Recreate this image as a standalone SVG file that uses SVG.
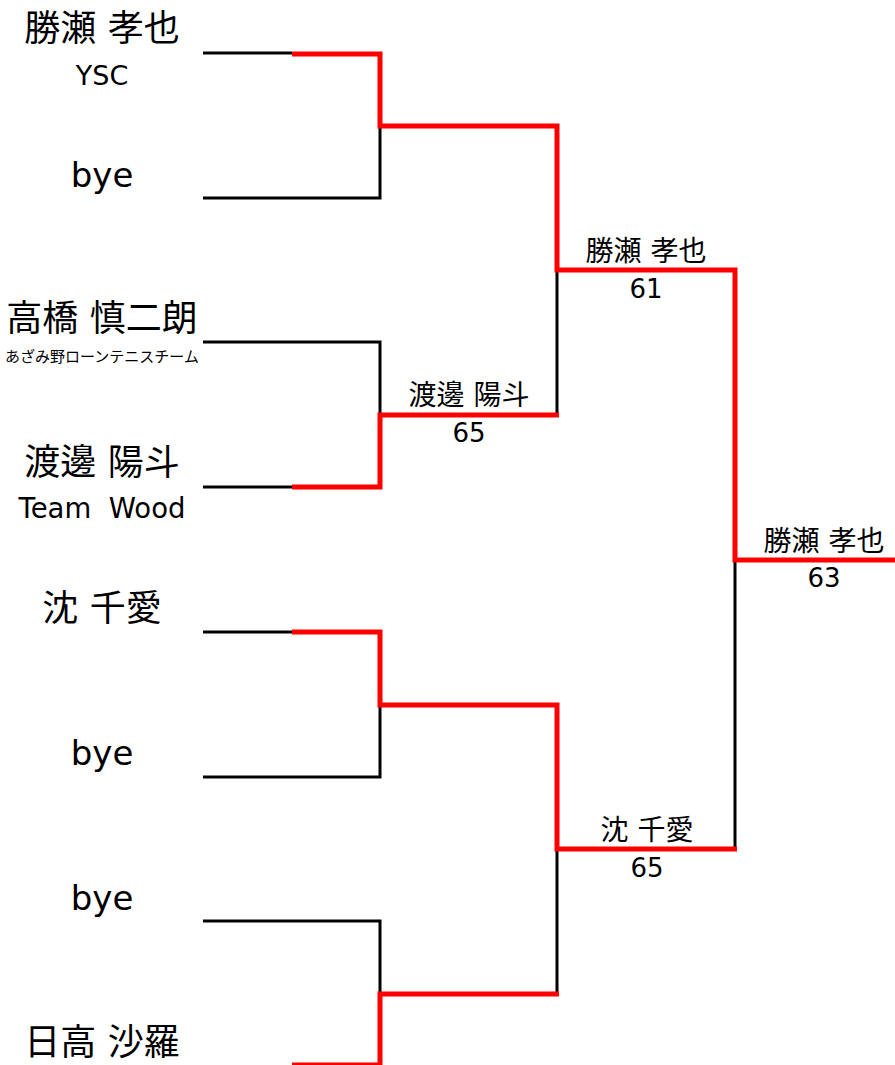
<svg xmlns="http://www.w3.org/2000/svg" width="895" height="1065" viewBox="0 0 895 1065">
<style>
text{font-family:"DejaVu Sans","Noto Sans CJK JP",sans-serif;fill:#000;text-anchor:middle}
.nm{font-size:36px}
.lat{font-size:27px}
.bye{font-size:34px}
.club{font-size:15px}
.wn{font-size:28px}
.sc{font-size:26px}
.blk{fill:none;stroke:#000;stroke-width:3;stroke-linejoin:miter}
.red{fill:none;stroke:#ff0000;stroke-width:5;stroke-linejoin:miter}
</style>
<rect width="895" height="1065" fill="#fff"/>
<g id="connectors">
<path class="blk" d="M203 53H292M203 198H380V126M203 342H380V415M203 487H292M203 632H292M203 777H380V705M203 921H380V994M557 270V415M557 849V994M735 560V849"/>
<path class="red" d="M292 54H380V126H557V270H735V560H900"/>
<path class="red" d="M292 487H380V415H559"/>
<path class="red" d="M292 632H380V705H557V849H737"/>
<path class="red" d="M292 1065H380V994H559"/>
</g>
<g id="p1"><text class="nm" x="102" y="41">勝瀬 孝也</text><text class="lat" x="102" y="85">YSC</text></g>
<g id="p2"><text class="bye" x="102" y="187">bye</text></g>
<g id="p3"><text class="nm" x="102" y="331">高橋 慎二朗</text><text class="club" x="102" y="362">あざみ野ローンテニスチーム</text></g>
<g id="p4"><text class="nm" x="102" y="475">渡邊 陽斗</text><text class="lat" x="102" y="518" style="font-size:27.5px">Team&#160;&#160;Wood</text></g>
<g id="p5"><text class="nm" x="102" y="621">沈 千愛</text></g>
<g id="p6"><text class="bye" x="102" y="765">bye</text></g>
<g id="p7"><text class="bye" x="102" y="910">bye</text></g>
<g id="p8"><text class="nm" x="102" y="1055">日高 沙羅</text></g>
<g id="r1a"><text class="wn" x="469" y="405">渡邊 陽斗</text><text class="sc" x="469" y="442">65</text></g>
<g id="r2a"><text class="wn" x="646" y="261">勝瀬 孝也</text><text class="sc" x="646" y="298">61</text></g>
<g id="r2b"><text class="wn" x="647" y="840">沈 千愛</text><text class="sc" x="647" y="877">65</text></g>
<g id="final"><text class="wn" x="824" y="551">勝瀬 孝也</text><text class="sc" x="824" y="587">63</text></g>
</svg>
